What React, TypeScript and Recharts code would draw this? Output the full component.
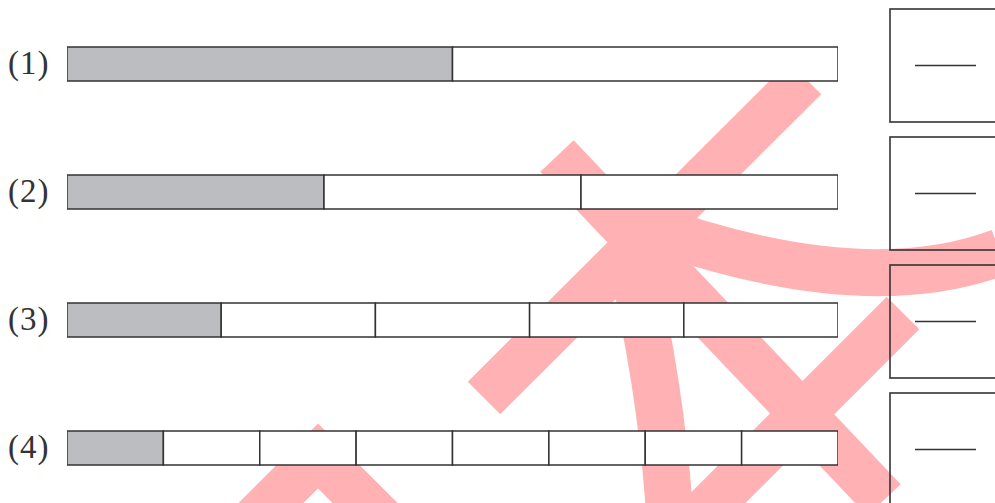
import { BarChart, Bar, XAxis, YAxis, Cell, Customized } from 'recharts'

// fraction strips: each row is split into equal parts, the first part shaded
const rowLabels = ['(1)', '(2)', '(3)', '(4)']
const row1 = [1 / 2, 1 / 2]
const row2 = [1 / 3, 1 / 3, 1 / 3]
const row3 = [1 / 5, 1 / 5, 1 / 5, 1 / 5, 1 / 5]
const row4 = [1 / 8, 1 / 8, 1 / 8, 1 / 8, 1 / 8, 1 / 8, 1 / 8, 1 / 8]
const shadedParts = [1, 1, 1, 1]

const rows = [row1, row2, row3, row4]
const segKeys = ['s1', 's2', 's3', 's4', 's5', 's6', 's7', 's8']

const data = rowLabels.map((label, i) => {
  const d: Record<string, string | number> = { label }
  segKeys.forEach((k, j) => {
    d[k] = rows[i][j] ?? 0
  })
  return d
})

const INK = '#333'
const GRAY = '#bcbdc1'

function LabelTick(props: any) {
  const { x, y, payload } = props
  return (
    <text
      x={x - 59}
      y={y + 10}
      fill={INK}
      fontSize={33}
      fontFamily="'Liberation Serif', serif"
      letterSpacing={1}
    >
      {payload.value}
    </text>
  )
}

function AnswerBox(props: any) {
  const { x, y } = props
  return (
    <g>
      <rect x={x + 52} y={y - 55} width={130} height={113} fill="none" stroke={INK} strokeWidth={1.6} />
      <line x1={x + 77} x2={x + 138} y1={y + 1.5} y2={y + 1.5} stroke={INK} strokeWidth={1.6} />
    </g>
  )
}

// pink "sample" stamp over the sheet
function Watermark() {
  return (
    <g opacity={0.3} fill="none" stroke="#ff0208" strokeWidth={46} strokeLinecap="butt">
      <line x1={805} y1={78} x2={484} y2={398} />
      <line x1={557} y1={156} x2={884} y2={500} />
      <line x1={903} y1={313} x2={700} y2={516} />
      <path d="M635 222 Q860 305 1000 252" strokeWidth={47} />
      <path d="M630 255 Q662 390 670 520" strokeWidth={47} />
      <polyline points="218,556 318,456 418,556" strokeLinejoin="miter" />
    </g>
  )
}

export default function App() {
  return (
    <div style={{ position: 'absolute', left: 0, top: 0, width: 995, height: 503, overflow: 'hidden', background: '#fff' }}>
      <BarChart
        width={995}
        height={512}
        data={data}
        layout="vertical"
        margin={{ top: 0, right: 0, left: 0, bottom: 0 }}
        barSize={34}
      >
        <XAxis type="number" domain={[0, 1]} hide allowDataOverflow />
        <YAxis
          type="category"
          dataKey="label"
          width={67}
          axisLine={false}
          tickLine={false}
          tickSize={0}
          tickMargin={0}
          tick={<LabelTick />}
        />
        <YAxis
          yAxisId="box"
          orientation="right"
          type="category"
          dataKey="label"
          width={157}
          axisLine={false}
          tickLine={false}
          tickSize={0}
          tickMargin={0}
          tick={<AnswerBox />}
        />
        {segKeys.map((k, j) => (
          <Bar key={k} dataKey={k} stackId="strip" stroke={INK} strokeWidth={1.5} isAnimationActive={false}>
            {data.map((_, i) => (
              <Cell key={i} fill={j < shadedParts[i] ? GRAY : '#fff'} />
            ))}
          </Bar>
        ))}
        <Customized component={Watermark} />
      </BarChart>
    </div>
  )
}
